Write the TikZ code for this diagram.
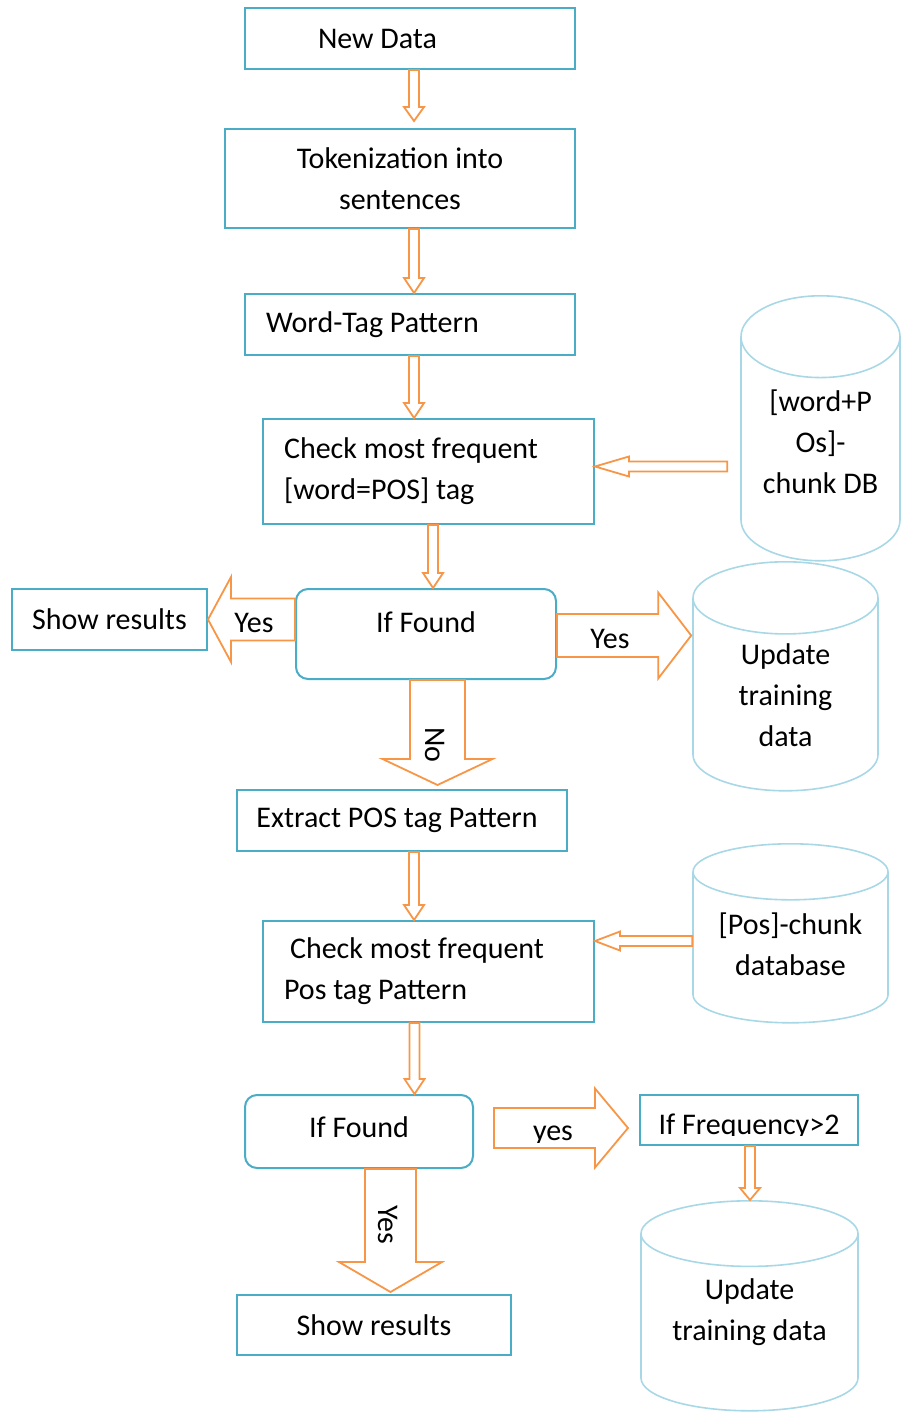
\documentclass[tikz,border=0pt]{standalone}
\usepackage{fontspec}
\setmainfont{Carlito}
\usetikzlibrary{calc,shapes.geometric}
\definecolor{boxBlue}{HTML}{4BACC6}
\definecolor{dbBlue}{HTML}{A8D8E6}
\definecolor{arrowOrange}{HTML}{F79646}
\newcommand{\blockArrow}[5]{%
  \draw[flowarrow] let \p1=($(#2)-(#1)$), \n1={veclen(\x1,\y1)}, \n2={atan2(\y1,\x1)} in
    [shift={(#1)}, rotate=\n2] (0pt,#3) -- ({\n1-#5},#3) -- ({\n1-#5},#4) -- ({\n1*1pt},0pt)
    -- ({\n1-#5},-#4) -- ({\n1-#5},-#3) -- (0pt,-#3) -- cycle;}
\tikzset{
  box/.style={draw=boxBlue, line width=1pt, inner sep=0pt},
  roundbox/.style={box, rounded corners=6pt},
  dbcyl/.style={cylinder, shape border rotate=90, draw=dbBlue, line width=0.8pt, align=center, inner sep=0pt, anchor=north},
  flowarrow/.style={draw=arrowOrange, line width=0.9pt, line join=miter},
  lbl/.style={inner sep=0pt}
}

\begin{document}
\begin{tikzpicture}[x=0.5pt, y=-0.5pt, font=\fontsize{15}{20.5}\selectfont]
\useasboundingbox (0,0) rectangle (907,1416);

\node[box, minimum width=165pt, minimum height=30.5pt] (newData) at (410,38.5) {New Data\hspace*{32.5pt}};
\node[box, minimum width=175pt, minimum height=49.5pt, align=center] (tokenize) at (400,178.5) {Tokenization into\\sentences};
\node[box, minimum width=165pt, minimum height=30.5pt] (wordTag) at (410,324.5) {Word-Tag Pattern\hspace*{37.5pt}};
\node[box, minimum width=165.5pt, minimum height=52.5pt, align=left] (checkWord) at (428.5,471.5) {Check most frequent\hspace*{17.5pt}\\{}[word=POS] tag};
\node[dbcyl, minimum width=79.5pt, minimum height=132.5pt, shape aspect=0.71, text depth=7pt] (wordDB) at (820.5,295) {[word+P\\Os]-\\chunk DB};
\node[roundbox, minimum width=130pt, minimum height=45pt, text depth=12pt] (foundWord) at (426,634) {If Found};
\node[box, minimum width=97.5pt, minimum height=30.5pt] (showWord) at (109.5,619.5) {Show results};
\node[dbcyl, minimum width=92.5pt, minimum height=114.5pt, shape aspect=0.77] (updateWord) at (785.5,561) {Update\\training\\data};
\node[box, minimum width=165pt, minimum height=30.5pt] (extractPos) at (402,820.5) {Extract POS tag Pattern\hspace*{5pt}};
\node[box, minimum width=165.5pt, minimum height=50.5pt, align=left] (checkPos) at (428.5,971.5) {\hspace*{3pt}Check most frequent\hspace*{14.5pt}\\Pos tag Pattern};
\node[dbcyl, minimum width=97.5pt, minimum height=89.5pt, shape aspect=0.39, text depth=4pt] (posDB) at (790.5,843) {[Pos]-chunk\\database};
\node[roundbox, minimum width=114pt, minimum height=36.5pt, text depth=4pt] (foundPos) at (359,1131.5) {If Found};
\node[box, minimum width=109pt, minimum height=25pt] (freqCheck) at (749,1120) {};
\node[dbcyl, minimum width=108.5pt, minimum height=105pt, shape aspect=0.425, text depth=13pt] (updatePos) at (749.5,1200) {Update\\training data};
\node[box, minimum width=137pt, minimum height=30pt] (showPos) at (374,1325) {Show results};

\begin{scope}
\clip (640,1095) rectangle (858,1135);
\node[lbl, anchor=base] (freqText) at (749,1134) {If Frequency>2};
\end{scope}

\coordinate (a1s) at ($(newData.south)+(4,0)$);
\coordinate (a1e) at ($(a1s |- tokenize.north)+(0,-7)$);
\coordinate (a2s) at ($(tokenize.south)+(14,0)$);
\coordinate (a3s) at ($(wordTag.south)+(4,0)$);
\coordinate (a4s) at ($(checkWord.south)+(4.5,0)$);
\coordinate (a5s) at ($(foundWord.south)+(11.5,0)$);
\coordinate (a5e) at ($(a5s |- extractPos.north)+(0,-4)$);
\coordinate (a6s) at ($(extractPos.south)+(12,0)$);
\coordinate (a7s) at ($(checkPos.south)+(-14,0)$);
\coordinate (a8s) at ($(foundPos.south)+(31.5,0)$);
\coordinate (a8e) at ($(a8s |- showPos.north)+(0,-2)$);
\coordinate (a9s) at ($(foundPos.east)+(20,-3.5)$);
\coordinate (a9e) at ($(a9s -| freqCheck.west)+(-11,0)$);
\coordinate (a10s) at ($(freqCheck.south)+(1,0)$);
\coordinate (a11s) at ($(foundWord.east)+(0,1.5)$);
\coordinate (a11e) at ($(a11s -| updateWord.west)+(-1,0)$);
\coordinate (a12s) at (foundWord.west |- showWord.east);
\coordinate (a13s) at ($(checkWord.east -| wordDB.west)+(-13,-5)$);
\coordinate (a13e) at ($(checkWord.east)+(0,-5)$);
\coordinate (a14s) at ($(checkPos.east -| posDB.west)+(0,-30.5)$);
\coordinate (a14e) at ($(checkPos.east)+(0,-30.5)$);

\blockArrow{a1s}{a1e}{2.5pt}{5pt}{7pt}
\blockArrow{a2s}{a2s |- wordTag.north}{2.5pt}{5pt}{7.5pt}
\blockArrow{a3s}{a3s |- checkWord.north}{2.5pt}{5pt}{7.5pt}
\blockArrow{a4s}{a4s |- foundWord.north}{2.5pt}{5pt}{7.5pt}
\blockArrow{a5s}{a5e}{13.75pt}{27.5pt}{13pt}
\blockArrow{a6s}{a6s |- checkPos.north}{2.5pt}{5pt}{7.5pt}
\blockArrow{a7s}{a7s |- foundPos.north}{2.5pt}{5pt}{7.5pt}
\blockArrow{a8s}{a8e}{12.75pt}{25.75pt}{15pt}
\blockArrow{a9s}{a9e}{10pt}{19.75pt}{16.5pt}
\blockArrow{a10s}{a10s |- updatePos.north}{2.5pt}{5pt}{6pt}
\blockArrow{a11s}{a11e}{10.75pt}{21.5pt}{16.5pt}
\blockArrow{a12s}{showWord.east}{10.5pt}{21.25pt}{11.5pt}
\blockArrow{a13s}{a13e}{2.5pt}{5pt}{17pt}
\blockArrow{a14s}{a14e}{2.5pt}{4.75pt}{12.5pt}

\node[lbl] (yesShow) at (254,623) {Yes};
\node[lbl] (yesUpdate) at (610,639) {Yes};
\node[lbl, rotate=-90] (noLabel) at (435,745) {No};
\node[lbl, rotate=-90] (yesPos) at (388,1225) {Yes};
\begin{scope}
\clip (493,1100) rectangle (600,1142);
\node[lbl, anchor=base] (yesFreq) at (553,1140) {yes};
\end{scope}
\end{tikzpicture}
\end{document}
